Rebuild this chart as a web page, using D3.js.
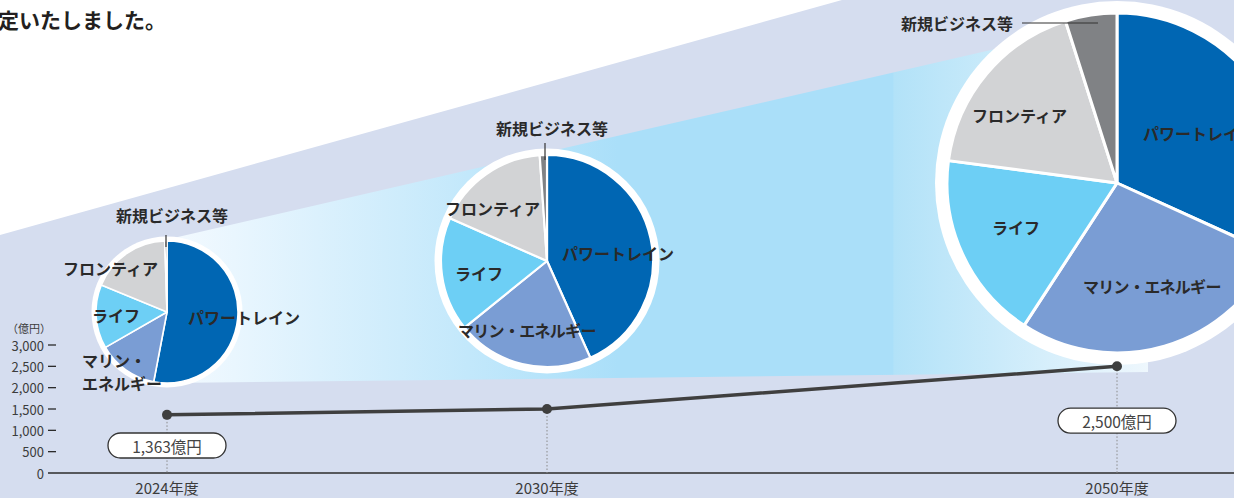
<!DOCTYPE html>
<html lang="ja">
<head>
<meta charset="utf-8">
<script src="https://cdn.jsdelivr.net/npm/d3@7"></script>
<style>
  html, body { margin: 0; padding: 0; background: #d5ddef; }
  svg { display: block; font-family: "Noto Sans CJK JP", "Noto Sans", sans-serif; }
</style>
</head>
<body>
<svg id="chart" width="1234" height="498"></svg>
<script>
// ---- data ----
const years = [2024, 2030, 2050];
const yearLabels = ["2024年度", "2030年度", "2050年度"];
const totals = [1363, 1500, 2500];            // 売上規模（億円）
const labeledTotals = [true, false, true];
const yTicks = [0, 500, 1000, 1500, 2000, 2500, 3000];
const segments = ["パワートレイン", "マリン・エネルギー", "ライフ", "フロンティア", "新規ビジネス等"];
const share2024 = [53.0, 13.7, 14.5, 18.3, 0.5];
const share2030 = [43.3, 20.9, 17.4, 17.3, 1.1];
const share2050 = [31.8, 27.4, 17.9, 18.0, 4.9];
const shares = [share2024, share2030, share2050];

// ---- styles / layout ----
const W = 1234, H = 498;
const segColors = ["#0066b3", "#7a9dd4", "#6dcff5", "#d2d3d5", "#808285"];
const textColor = "#2a2a2a";
const pieLayout = [
  { cy: 312, r: 71,  ring: 4.5, sep: 1.6 },
  { cy: 261, r: 106, ring: 6.5, sep: 2.2 },
  { cy: 183, r: 170, ring: 12,  sep: 3 }
];
// label placement from each pie centre: [dx, dy, anchor, line break after "・"]
const pieLabels = [
  [
    [21, 5, "start", false],
    [-85, 48, "start", true],
    [-75, 3, "start", false],
    [-104, -44, "start", false],
    [5, -97, "middle", false]
  ],
  [
    [15, -8, "start", false],
    [-89, 69, "start", false],
    [-92, 12, "start", false],
    [-102, -53, "start", false],
    [5, -133, "middle", false]
  ],
  [
    [26, -50, "start", false],
    [-34, 103, "start", false],
    [-125, 44, "start", false],
    [-145, -68, "start", false],
    [-104, -160, "end", false]
  ]
];
// leader lines for the small "新規ビジネス等" slice: [x1, y1, x2, y2] relative to centre
const leaders = [
  [-1, -77, -1, -65],
  [-2, -118, -2, -101],
  [-95, -160, -19, -160]
];
const pillY = [445.5, null, 420.7];

const svg = d3.select("#chart");
const xYear = d3.scaleLinear().domain(years).range([167, 547, 1117]);
const yVal = d3.scaleLinear().domain([0, 3000]).range([473, 345]);

// ---- background shapes ----
svg.append("rect").attr("width", W).attr("height", H).attr("fill", "#d5ddef");
svg.append("path").attr("d", "M0,0 L842,0 L0,235 Z").attr("fill", "#ffffff");

const defs = svg.append("defs");
const grad = defs.append("linearGradient").attr("id", "cone")
  .attr("gradientUnits", "userSpaceOnUse")
  .attr("x1", 167).attr("x2", 1148).attr("y1", 0).attr("y2", 0);
[[0, "#f4faff"], [0.46, "#aadff9"], [0.74, "#aadff9"], [0.741, "#b2e2f8"], [1, "#eef7fd"]]
  .forEach(([o, c]) => grad.append("stop").attr("offset", o).attr("stop-color", c));

const coneTop = x => 225 - 0.23 * (x - 230);
svg.append("path")
  .attr("d", `M167,${coneTop(167)} L1148,${coneTop(1148)} L1148,372 L167,383 Z`)
  .attr("fill", "url(#cone)");

// ---- title fragment ----
svg.append("text").attr("x", -2).attr("y", 28)
  .attr("font-size", 21).attr("font-weight", 700).attr("fill", "#231f20")
  .text("定いたしました。");

// ---- pies ----
const pie = d3.pie().sort(null).value(d => d);
years.forEach((yr, i) => {
  const L = pieLayout[i];
  const g = svg.append("g").attr("transform", `translate(${xYear(yr)},${L.cy})`);
  g.append("circle").attr("r", L.r + L.ring).attr("fill", "#ffffff");
  const arc = d3.arc().innerRadius(0).outerRadius(L.r);
  g.selectAll("path.slice").data(pie(shares[i])).join("path")
    .attr("class", "slice")
    .attr("d", arc)
    .attr("fill", (d, k) => segColors[k])
    .attr("stroke", "#ffffff")
    .attr("stroke-width", L.sep)
    .attr("stroke-linejoin", "round");
  const ld = leaders[i];
  g.append("line").attr("x1", ld[0]).attr("y1", ld[1]).attr("x2", ld[2]).attr("y2", ld[3])
    .attr("stroke", "#333").attr("stroke-width", 1.2);
  pieLabels[i].forEach(([dx, dy, anchor, wrap], k) => {
    const name = segments[k];
    const dotAt = name.indexOf("・");
    const t = g.append("text")
      .attr("x", dx).attr("y", dy)
      .attr("text-anchor", anchor)
      .attr("dominant-baseline", "central")
      .attr("font-size", 16).attr("font-weight", 700)
      .attr("fill", textColor);
    if (dotAt >= 0 && wrap) {
      // two lines, breaking after the middle dot
      t.append("tspan").attr("x", dx).text(name.slice(0, dotAt + 1));
      t.append("tspan").attr("x", dx).attr("dy", 23).text(name.slice(dotAt + 1));
    } else if (dotAt >= 0) {
      t.attr("letter-spacing", -0.7).text(name);
    } else {
      t.text(name);
    }
  });
});

// ---- axis ----
const axisG = svg.append("g");
axisG.append("line").attr("x1", 48).attr("x2", W).attr("y1", yVal(0)).attr("y2", yVal(0))
  .attr("stroke", "#2b2b2b").attr("stroke-width", 1.3);
yTicks.forEach(v => {
  if (v > 0) {
    axisG.append("line").attr("x1", 48).attr("x2", 56).attr("y1", yVal(v)).attr("y2", yVal(v))
      .attr("stroke", "#2b2b2b").attr("stroke-width", 1.3);
  }
  axisG.append("text").attr("x", 44).attr("y", yVal(v))
    .attr("text-anchor", "end").attr("dominant-baseline", "central")
    .attr("font-size", 13).attr("fill", "#3c3c3c")
    .text(d3.format(",")(v));
});
axisG.append("text").attr("x", 29).attr("y", 328)
  .attr("text-anchor", "middle").attr("dominant-baseline", "central")
  .attr("font-size", 11).attr("fill", "#3c3c3c").text("（億円）");

years.forEach((yr, i) => {
  svg.append("line")
    .attr("x1", xYear(yr)).attr("x2", xYear(yr))
    .attr("y1", yVal(totals[i])).attr("y2", yVal(0))
    .attr("stroke", "#8a8a8a").attr("stroke-width", 1).attr("stroke-dasharray", "1.5,2");
  svg.append("text").attr("x", xYear(yr)).attr("y", 487)
    .attr("text-anchor", "middle").attr("dominant-baseline", "central")
    .attr("font-size", 15).attr("fill", "#3c3c3c").text(yearLabels[i]);
});

// ---- total line ----
const line = d3.line().x((d, i) => xYear(years[i])).y(d => yVal(d));
svg.append("path").datum(totals).attr("d", line)
  .attr("fill", "none").attr("stroke", "#3f3f3f").attr("stroke-width", 3.5);
svg.selectAll("circle.dot").data(totals).join("circle").attr("class", "dot")
  .attr("cx", (d, i) => xYear(years[i])).attr("cy", d => yVal(d)).attr("r", 5)
  .attr("fill", "#3f3f3f");

// ---- value pills ----
years.forEach((yr, i) => {
  if (!labeledTotals[i]) return;
  const cx = xYear(yr), cy = pillY[i];
  svg.append("rect").attr("x", cx - 59).attr("y", cy - 12.5)
    .attr("width", 118).attr("height", 25).attr("rx", 12.5)
    .attr("fill", "#ffffff").attr("stroke", "#333").attr("stroke-width", 1.3);
  svg.append("text").attr("x", cx).attr("y", cy)
    .attr("text-anchor", "middle").attr("dominant-baseline", "central")
    .attr("font-size", 15.5).attr("fill", "#444")
    .text(d3.format(",")(totals[i]) + "億円");
});
</script>
</body>
</html>
